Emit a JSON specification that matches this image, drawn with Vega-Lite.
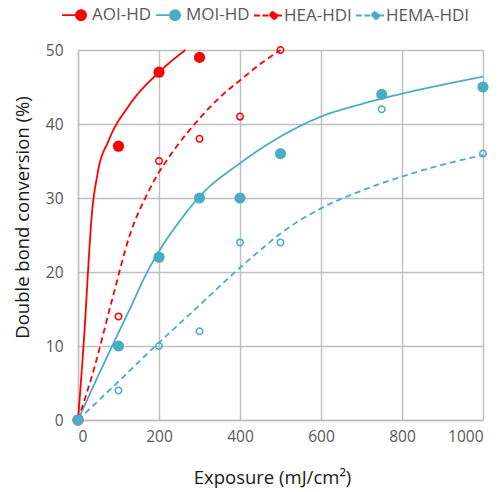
{
  "$schema": "https://vega.github.io/schema/vega-lite/v6.json",
  "width": 405,
  "height": 370,
  "autosize": {"type": "none"},
  "padding": {"left": 78, "top": 50, "right": 19, "bottom": 72},
  "background": "white",
  "config": {
    "view": {"stroke": null},
    "font": "Open Sans",
    "axis": {
      "grid": true,
      "gridColor": "#BFBFBF",
      "gridWidth": 1.4,
      "domainColor": "#BFBFBF",
      "domainWidth": 1.4,
      "ticks": false,
      "labelColor": "#595959",
      "labelFontSize": 15.5,
      "titleFontSize": 18.5,
      "titleFontWeight": "normal",
      "titleColor": "#1a1a1a"
    }
  },
  "datasets": {
    "curves": [
      {"series": "AOI-HD", "x": 0, "y": 0},
      {"series": "AOI-HD", "x": 16, "y": 12},
      {"series": "AOI-HD", "x": 28, "y": 23},
      {"series": "AOI-HD", "x": 33, "y": 27},
      {"series": "AOI-HD", "x": 48, "y": 33.2},
      {"series": "AOI-HD", "x": 76, "y": 37.8},
      {"series": "AOI-HD", "x": 126, "y": 42.5},
      {"series": "AOI-HD", "x": 200, "y": 47},
      {"series": "AOI-HD", "x": 265, "y": 50},
      {"series": "MOI-HD", "x": 0, "y": 0},
      {"series": "MOI-HD", "x": 50, "y": 6},
      {"series": "MOI-HD", "x": 100, "y": 11.8},
      {"series": "MOI-HD", "x": 128, "y": 15},
      {"series": "MOI-HD", "x": 169, "y": 19.8},
      {"series": "MOI-HD", "x": 200, "y": 22.8},
      {"series": "MOI-HD", "x": 250, "y": 26.8},
      {"series": "MOI-HD", "x": 300, "y": 30.2},
      {"series": "MOI-HD", "x": 400, "y": 34.7},
      {"series": "MOI-HD", "x": 500, "y": 38.3},
      {"series": "MOI-HD", "x": 600, "y": 41},
      {"series": "MOI-HD", "x": 700, "y": 42.7},
      {"series": "MOI-HD", "x": 800, "y": 44.1},
      {"series": "MOI-HD", "x": 900, "y": 45.3},
      {"series": "MOI-HD", "x": 1000, "y": 46.4},
      {"series": "HEA-HDI", "x": 0, "y": 0},
      {"series": "HEA-HDI", "x": 40, "y": 7},
      {"series": "HEA-HDI", "x": 83, "y": 16},
      {"series": "HEA-HDI", "x": 128, "y": 25},
      {"series": "HEA-HDI", "x": 177, "y": 31.2},
      {"series": "HEA-HDI", "x": 244, "y": 37},
      {"series": "HEA-HDI", "x": 293, "y": 40.3},
      {"series": "HEA-HDI", "x": 350, "y": 43.6},
      {"series": "HEA-HDI", "x": 400, "y": 45.9},
      {"series": "HEA-HDI", "x": 450, "y": 48.1},
      {"series": "HEA-HDI", "x": 500, "y": 50},
      {"series": "HEMA-HDI", "x": 0, "y": 0},
      {"series": "HEMA-HDI", "x": 100, "y": 5.2},
      {"series": "HEMA-HDI", "x": 191, "y": 10},
      {"series": "HEMA-HDI", "x": 290, "y": 15},
      {"series": "HEMA-HDI", "x": 388, "y": 20},
      {"series": "HEMA-HDI", "x": 451, "y": 23},
      {"series": "HEMA-HDI", "x": 500, "y": 25.2},
      {"series": "HEMA-HDI", "x": 600, "y": 28.6},
      {"series": "HEMA-HDI", "x": 696, "y": 30.9},
      {"series": "HEMA-HDI", "x": 800, "y": 32.9},
      {"series": "HEMA-HDI", "x": 900, "y": 34.5},
      {"series": "HEMA-HDI", "x": 1000, "y": 35.8}
    ],
    "points": [
      {"series": "AOI-HD", "x": 0, "y": 0},
      {"series": "AOI-HD", "x": 100, "y": 37},
      {"series": "AOI-HD", "x": 200, "y": 47},
      {"series": "AOI-HD", "x": 300, "y": 49},
      {"series": "MOI-HD", "x": 0, "y": 0},
      {"series": "MOI-HD", "x": 100, "y": 10},
      {"series": "MOI-HD", "x": 200, "y": 22},
      {"series": "MOI-HD", "x": 300, "y": 30},
      {"series": "MOI-HD", "x": 400, "y": 30},
      {"series": "MOI-HD", "x": 500, "y": 36},
      {"series": "MOI-HD", "x": 750, "y": 44},
      {"series": "MOI-HD", "x": 1000, "y": 45},
      {"series": "HEA-HDI", "x": 0, "y": 0},
      {"series": "HEA-HDI", "x": 100, "y": 14},
      {"series": "HEA-HDI", "x": 200, "y": 35},
      {"series": "HEA-HDI", "x": 300, "y": 38},
      {"series": "HEA-HDI", "x": 400, "y": 41},
      {"series": "HEA-HDI", "x": 500, "y": 50},
      {"series": "HEMA-HDI", "x": 0, "y": 0},
      {"series": "HEMA-HDI", "x": 100, "y": 4},
      {"series": "HEMA-HDI", "x": 200, "y": 10},
      {"series": "HEMA-HDI", "x": 300, "y": 12},
      {"series": "HEMA-HDI", "x": 400, "y": 24},
      {"series": "HEMA-HDI", "x": 500, "y": 24},
      {"series": "HEMA-HDI", "x": 750, "y": 42},
      {"series": "HEMA-HDI", "x": 1000, "y": 36}
    ]
  },
  "encoding": {
    "x": {
      "field": "x",
      "type": "quantitative",
      "scale": {"domain": [0, 1000], "nice": false},
      "axis": {
        "values": [0, 200, 400, 600, 800, 1000],
        "format": "d",
        "title": "Exposure (mJ/cm²)",
        "labelPadding": 9,
        "titleX": 194,
        "titleY": 57,
        "titleAlign": "center",
        "titleBaseline": "middle"
      }
    },
    "y": {
      "field": "y",
      "type": "quantitative",
      "scale": {"domain": [0, 50], "nice": false},
      "axis": {
        "values": [0, 10, 20, 30, 40, 50],
        "format": "d",
        "title": "Double bond conversion (%)",
        "labelPadding": 15,
        "titleX": -56,
        "titleY": 167,
        "titleAlign": "center",
        "titleBaseline": "middle"
      }
    },
    "color": {
      "field": "series",
      "type": "nominal",
      "scale": {
        "domain": ["AOI-HD", "MOI-HD", "HEA-HDI", "HEMA-HDI"],
        "range": ["#FF0000", "#4BACC6", "#FF0000", "#4BACC6"]
      },
      "legend": {
        "orient": "none",
        "direction": "horizontal",
        "legendX": -17,
        "legendY": -50,
        "title": null,
        "padding": 0,
        "symbolSize": 784,
        "symbolStrokeWidth": 1.8,
        "labelFontSize": 17,
        "labelColor": "#595959",
        "labelOffset": 1,
        "columnPadding": 0,
        "encode": {
          "symbols": {
            "update": {
              "shape": {"signal": "(datum.value === 'AOI-HD' || datum.value === 'MOI-HD') ? 'M-1,0H0.36M0.72,0A0.36,0.36 0 1,1 0,0A0.36,0.36 0 1,1 0.72,0Z' : 'M-1,0H-0.58M-0.4,0H0.15M0.65,0H1M0.65,0A0.25,0.25 0 1,1 0.15,0A0.25,0.25 0 1,1 0.65,0Z'"},
              "size": {"value": 784},
              "fill": {"signal": "(datum.value === 'AOI-HD' || datum.value === 'MOI-HD') ? scale('color', datum.value) : '#ffffff'"},
              "stroke": {"signal": "scale('color', datum.value)"},
              "strokeWidth": {"value": 1.8},
              "strokeDash": {"value": []},
              "opacity": {"value": 1}
            }
          }
        }
      }
    }
  },
  "layer": [
    {
      "data": {"name": "curves"},
      "mark": {"type": "line", "strokeWidth": 1.8, "interpolate": "monotone"},
      "encoding": {
        "strokeDash": {
          "field": "series",
          "type": "nominal",
          "scale": {
            "domain": ["AOI-HD", "MOI-HD", "HEA-HDI", "HEMA-HDI"],
            "range": [[1, 0], [1, 0], [6, 4], [6, 4]]
          },
          "legend": null
        }
      }
    },
    {
      "data": {"name": "points"},
      "transform": [{"filter": {"field": "series", "oneOf": ["HEA-HDI", "HEMA-HDI"]}}],
      "mark": {"type": "point", "shape": "circle", "filled": false, "size": 42, "strokeWidth": 1.5, "opacity": 1}
    },
    {
      "data": {"name": "points"},
      "transform": [{"filter": {"field": "series", "oneOf": ["AOI-HD", "MOI-HD"]}}],
      "mark": {"type": "circle", "size": 125, "opacity": 1}
    }
  ]
}
